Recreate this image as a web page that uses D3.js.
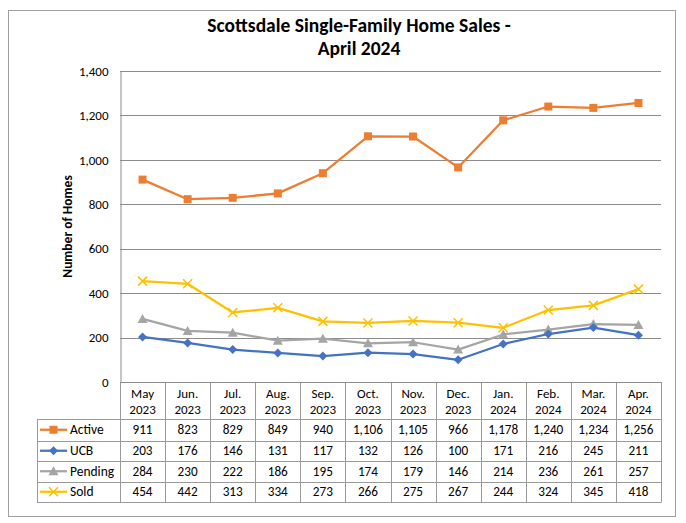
<!DOCTYPE html>
<html><head><meta charset="utf-8">
<script src="https://cdn.jsdelivr.net/npm/d3@7"></script>
<style>
html,body{margin:0;padding:0;background:#fff;}
text{font-family:Carlito,Calibri,Lato,sans-serif;fill:#000;}
</style></head>
<body><svg id="chart" width="686" height="523"></svg>
<script>
const title = ["Scottsdale Single-Family Home Sales -", "April 2024"];
const yLabel = "Number of Homes";
const months = ["May|2023","Jun.|2023","Jul.|2023","Aug.|2023","Sep.|2023","Oct.|2023","Nov.|2023","Dec.|2023","Jan.|2024","Feb.|2024","Mar.|2024","Apr.|2024"];
const yTicks = [0,200,400,600,800,1000,1200,1400];
const active  = [911,823,829,849,940,1106,1105,966,1178,1240,1234,1256];
const ucb     = [203,176,146,131,117,132,126,100,171,216,245,211];
const pending = [284,230,222,186,195,174,179,146,214,236,261,257];
const sold    = [454,442,313,334,273,266,275,267,244,324,345,418];
const seriesNames = ["Active","UCB","Pending","Sold"];
const seriesColors = ["#ED7D31","#4472C4","#A5A5A5","#FFC000"];
const seriesMarkers = ["square","diamond","triangle","x"];

const series = seriesNames.map((n,i)=>({name:n, values:[active,ucb,pending,sold][i], color:seriesColors[i], marker:seriesMarkers[i]}));

const svg = d3.select("#chart");
const L = 120, R = 661, T = 71, B = 382;
const gridColor = "#8C8C8C", tableColor = "#9A9A9A";

// outer border
svg.append("rect").attr("x",8.5).attr("y",10.5).attr("width",667).attr("height",506)
  .attr("fill","#fff").attr("stroke","#A0A0A0").attr("stroke-width",1);

// title
svg.selectAll("text.title").data(title).join("text").attr("class","title")
  .attr("x",359).attr("y",(d,i)=>31.5+i*23.5).attr("text-anchor","middle")
  .attr("font-size","19.5px").attr("font-weight","bold").text(d=>d);

const x = d3.scaleBand().domain(months).range([L,R]);
const y = d3.scaleLinear().domain([0,1400]).range([B,T]);

// gridlines
svg.append("g").selectAll("line").data(yTicks.filter(d=>d>0)).join("line")
  .attr("x1",L).attr("x2",R).attr("y1",d=>Math.round(y(d))+0.5).attr("y2",d=>Math.round(y(d))+0.5)
  .attr("stroke",gridColor).attr("stroke-width",1);

// y axis
const yAxis = d3.axisLeft(y).tickValues(yTicks).tickSize(0).tickPadding(12).tickFormat(d3.format(","));
const ya = svg.append("g").attr("transform",`translate(${L+0.5},0)`).call(yAxis);
ya.select(".domain").attr("stroke",gridColor);
ya.selectAll("text").attr("font-size","13px").attr("font-family","Carlito,Calibri,Lato,sans-serif").attr("fill","#000");

// y label
svg.append("text").attr("transform",`translate(71.5,${(T+B)/2}) rotate(-90)`)
  .attr("text-anchor","middle").attr("font-size","13.5px").attr("font-weight","bold").text(yLabel);

// table
const rowEdges = [B, 419, 440.5, 461, 481.5, 502];
const tbl = svg.append("g");
const tableLeft = 37;
const colEdges = months.map(m=>x(m)).concat([R]);
tbl.selectAll("line.v").data(colEdges).join("line").attr("class","v")
  .attr("x1",d=>Math.round(d)+0.5).attr("x2",d=>Math.round(d)+0.5)
  .attr("y1",B).attr("y2",rowEdges[5]).attr("stroke",tableColor);
tbl.append("line").attr("x1",tableLeft+0.5).attr("x2",tableLeft+0.5).attr("y1",rowEdges[1]).attr("y2",rowEdges[5]).attr("stroke",tableColor);
tbl.selectAll("line.h").data(rowEdges.slice(1)).join("line").attr("class","h")
  .attr("x1",tableLeft).attr("x2",R+0.5).attr("y1",d=>Math.round(d)+0.5).attr("y2",d=>Math.round(d)+0.5).attr("stroke",tableColor);
tbl.append("line").attr("x1",L).attr("x2",R+0.5).attr("y1",B+0.5).attr("y2",B+0.5).attr("stroke",gridColor);

// header text
months.forEach(m=>{
  const [a,b] = m.split("|");
  const cx = x(m)+x.bandwidth()/2;
  const t = tbl.append("text").attr("text-anchor","middle").attr("font-size","13px");
  t.append("tspan").attr("x",cx).attr("y",398).text(a);
  t.append("tspan").attr("x",cx).attr("y",414).text(b);
});

function marker(g, type, color, cx, cy){
  if(type==="square") g.append("rect").attr("x",cx-4).attr("y",cy-4).attr("width",8).attr("height",8).attr("fill",color);
  else if(type==="diamond") g.append("path").attr("d",`M${cx},${cy-4.5}L${cx+4.5},${cy}L${cx},${cy+4.5}L${cx-4.5},${cy}Z`).attr("fill",color);
  else if(type==="triangle") g.append("path").attr("d",`M${cx},${cy-5}L${cx+5},${cy+4}L${cx-5},${cy+4}Z`).attr("fill",color);
  else if(type==="x") g.append("path").attr("d",`M${cx-4.5},${cy-4.5}L${cx+4.5},${cy+4.5}M${cx-4.5},${cy+4.5}L${cx+4.5},${cy-4.5}`).attr("stroke",color).attr("stroke-width",1.5).attr("fill","none");
}

// rows
series.forEach((s,i)=>{
  const cy = (rowEdges[i+1]+rowEdges[i+2])/2;
  const g = tbl.append("g");
  g.append("line").attr("x1",40).attr("x2",67).attr("y1",cy).attr("y2",cy).attr("stroke",s.color).attr("stroke-width",2.25);
  marker(g, s.marker, s.color, 53.5, cy);
  g.append("text").attr("x",70).attr("y",cy+4.5).attr("font-size","13.5px").text(s.name);
  s.values.forEach((v,j)=>{
    g.append("text").attr("x",x(months[j])+x.bandwidth()/2).attr("y",cy+4.5).attr("text-anchor","middle").attr("font-size","13.2px").text(d3.format(",")(v));
  });
});

// lines
const line = d3.line().x((d,j)=>x(months[j])+x.bandwidth()/2).y(d=>y(d));
const plotG = svg.append("g");
[3,2,1,0].forEach(i=>{
  const s = series[i];
  plotG.append("path").datum(s.values).attr("d",line).attr("fill","none").attr("stroke",s.color).attr("stroke-width",2.25).attr("stroke-linejoin","round");
});
[3,2,1,0].forEach(i=>{
  const s = series[i];
  s.values.forEach((v,j)=>marker(plotG, s.marker, s.color, x(months[j])+x.bandwidth()/2, y(v)));
});
</script></body></html>
